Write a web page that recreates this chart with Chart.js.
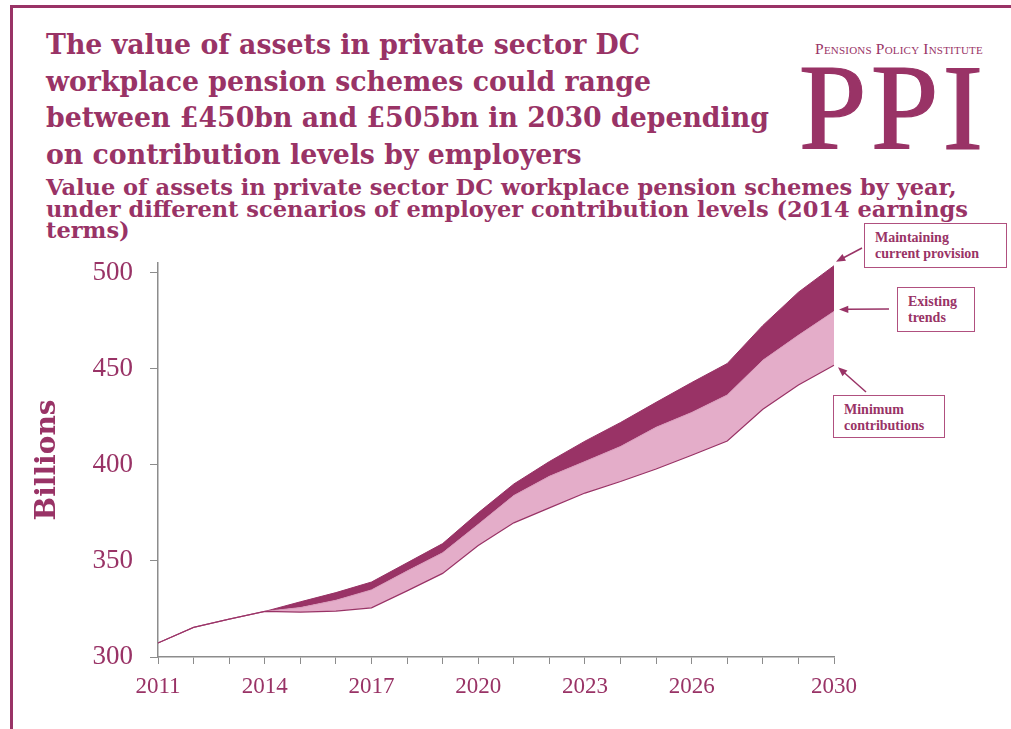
<!DOCTYPE html>
<html>
<head>
<meta charset="utf-8">
<script src="https://cdn.jsdelivr.net/npm/chart.js@4.4.1/dist/chart.umd.min.js"></script>
<style>
  html, body { margin: 0; padding: 0; background: #fff; }
  body { width: 1011px; height: 729px; position: relative; overflow: hidden; color: #993366; }
  .frame-top { position: absolute; left: 10px; top: 5px; width: 1001px; height: 3px; background: #993366; }
  .frame-left { position: absolute; left: 10px; top: 5px; width: 3px; height: 724px; background: #993366; }
  .headline {
    position: absolute; left: 46px; top: 27px; margin: 0;
    font: bold 28px/36.7px "DejaVu Serif", serif; white-space: nowrap;
    transform: scaleX(0.955); transform-origin: 0 0;
  }
  .subhead {
    position: absolute; left: 46px; top: 177px; margin: 0;
    font: bold 22px/21.5px "DejaVu Serif", serif; white-space: nowrap;
    transform: scaleX(1.023); transform-origin: 0 0;
  }
  .logo-small {
    position: absolute; left: 800px; top: 40px; width: 198px; text-align: center;
    font: 15.5px "Liberation Serif", serif; font-variant: small-caps; letter-spacing: 0.2px;
  }
  .logo-big {
    position: absolute; left: 794px; top: 47px; width: 198px; text-align: center;
    font: 122px/122px "Liberation Serif", serif; letter-spacing: 4px;
    -webkit-text-stroke: 1.2px #993366;
  }
  canvas { position: absolute; left: 0; top: 0; }
  .note {
    position: absolute; border: 1.5px solid #b0507f; background: #fff;
    font: bold 14px/15.5px "Liberation Serif", serif; color: #993366;
    box-sizing: border-box; padding: 6px 0 0 10px; white-space: nowrap;
  }
</style>
</head>
<body>
<div class="frame-top"></div>
<div class="frame-left"></div>

<div class="headline">The value of assets in private sector DC<br>workplace pension schemes could range<br>between £450bn and £505bn in 2030 depending<br>on contribution levels by employers</div>
<div class="subhead">Value of assets in private sector DC workplace pension schemes by year,<br>under different scenarios of employer contribution levels (2014 earnings<br>terms)</div>

<div class="logo-small">Pensions Policy Institute</div>
<div class="logo-big">PPI</div>

<canvas id="assets" width="1011" height="729"></canvas>

<div class="note" style="left:864px; top:223px; width:143px; height:45px;">Maintaining<br>current provision</div>
<div class="note" style="left:897px; top:287px; width:78px; height:45px;">Existing<br>trends</div>
<div class="note" style="left:833px; top:395px; width:112px; height:43px;">Minimum<br>contributions</div>

<script>
// £bn, 2014 earnings terms
const years = ["2011", "2012", "2013", "2014", "2015", "2016", "2017", "2018", "2019", "2020",
  "2021", "2022", "2023", "2024", "2025", "2026", "2027", "2028", "2029", "2030"];
const maintaining = [307.3, 315.4, 319.7, 323.7, 328.7, 333.5, 339.0, 349.0, 359.0, 375.0,
  390.0, 401.7, 412.3, 422.0, 432.5, 442.8, 452.7, 472.5, 489.8, 503.6];
const existing = [307.3, 315.4, 319.7, 323.7, 325.7, 329.5, 334.9, 344.7, 354.2, 369.0,
  384.0, 394.0, 401.7, 409.5, 419.5, 427.2, 436.3, 454.4, 467.4, 479.8];
const minimum = [307.3, 315.4, 319.7, 323.7, 323.4, 323.9, 325.6, 334.4, 343.5, 358.0,
  369.8, 377.6, 385.3, 391.3, 397.8, 405.0, 412.4, 428.9, 441.5, 451.8];
const xTickLabels = ["2011", "2014", "2017", "2020", "2023", "2026", "2030"];
const yTicks = [300, 350, 400, 450, 500];

const PLUM = "#993366";
const PINK = "#e4adc9";
const AXIS = "#8c8c8c";

// callout arrows: start point near each box, pointing at the 2030 value of a series
const callouts = [
  { dataset: 2, from: [862, 248], dx: 2, dy: -4 },
  { dataset: 1, from: [889, 309], dx: 5, dy: -2 },
  { dataset: 0, from: [866, 392], dx: 4, dy: 2 },
];

const calloutArrows = {
  id: "calloutArrows",
  afterDatasetsDraw(chart) {
    const ctx = chart.ctx;
    ctx.save();
    ctx.strokeStyle = PLUM;
    ctx.fillStyle = PLUM;
    ctx.lineWidth = 1.5;
    callouts.forEach((c) => {
      const pts = chart.getDatasetMeta(c.dataset).data;
      const end = pts[pts.length - 1];
      const tx = end.x + c.dx;
      const ty = end.y + c.dy;
      const ang = Math.atan2(ty - c.from[1], tx - c.from[0]);
      const head = 10;
      ctx.beginPath();
      ctx.moveTo(c.from[0], c.from[1]);
      ctx.lineTo(tx - Math.cos(ang) * head * 0.8, ty - Math.sin(ang) * head * 0.8);
      ctx.stroke();
      ctx.beginPath();
      ctx.moveTo(tx, ty);
      ctx.lineTo(tx - head * Math.cos(ang - 0.38), ty - head * Math.sin(ang - 0.38));
      ctx.lineTo(tx - head * Math.cos(ang + 0.38), ty - head * Math.sin(ang + 0.38));
      ctx.closePath();
      ctx.fill();
    });
    ctx.restore();
  },
};

new Chart(document.getElementById("assets"), {
  type: "line",
  data: {
    labels: years,
    datasets: [
      {
        label: "Minimum contributions",
        data: minimum,
        borderColor: PLUM,
        borderWidth: 1.2,
        pointRadius: 0,
        fill: false,
        tension: 0,
      },
      {
        label: "Existing trends",
        data: existing,
        borderColor: "#d99bbb",
        borderWidth: 1,
        backgroundColor: PINK,
        pointRadius: 0,
        fill: "-1",
        tension: 0,
      },
      {
        label: "Maintaining current provision",
        data: maintaining,
        borderColor: PLUM,
        borderWidth: 1,
        backgroundColor: PLUM,
        pointRadius: 0,
        fill: "-1",
        tension: 0,
      },
    ],
  },
  options: {
    responsive: false,
    animation: false,
    devicePixelRatio: 1,
    layout: { padding: { left: 0, right: 177, top: 263, bottom: 0 } },
    plugins: {
      legend: { display: false },
      tooltip: { enabled: false },
    },
    scales: {
      x: {
        offset: false,
        afterFit(scale) { scale.height = 72; },
        grid: { drawOnChartArea: false, drawTicks: true, tickLength: 7, color: AXIS },
        border: { display: true, color: AXIS, width: 1.5 },
        ticks: {
          autoSkip: false,
          maxRotation: 0,
          padding: 9,
          color: PLUM,
          font: { family: "Liberation Serif", size: 23 },
          callback: (v, i) => (xTickLabels.includes(years[i]) ? years[i] : ""),
        },
      },
      y: {
        min: 300,
        max: 505,
        afterFit(scale) { scale.width = 158; },
        afterBuildTicks(scale) { scale.ticks = yTicks.map((v) => ({ value: v })); },
        grid: { drawOnChartArea: false, drawTicks: true, tickLength: 8, color: AXIS },
        border: { display: true, color: AXIS, width: 1.5 },
        ticks: {
          padding: 17,
          color: PLUM,
          font: { family: "Liberation Serif", size: 27 },
        },
        title: {
          display: true,
          text: "Billions",
          color: PLUM,
          padding: { top: 34, bottom: 0 },
          font: { family: "DejaVu Serif", size: 28, weight: "bold", lineHeight: 1 },
        },
      },
    },
  },
  plugins: [calloutArrows],
});
</script>
</body>
</html>
